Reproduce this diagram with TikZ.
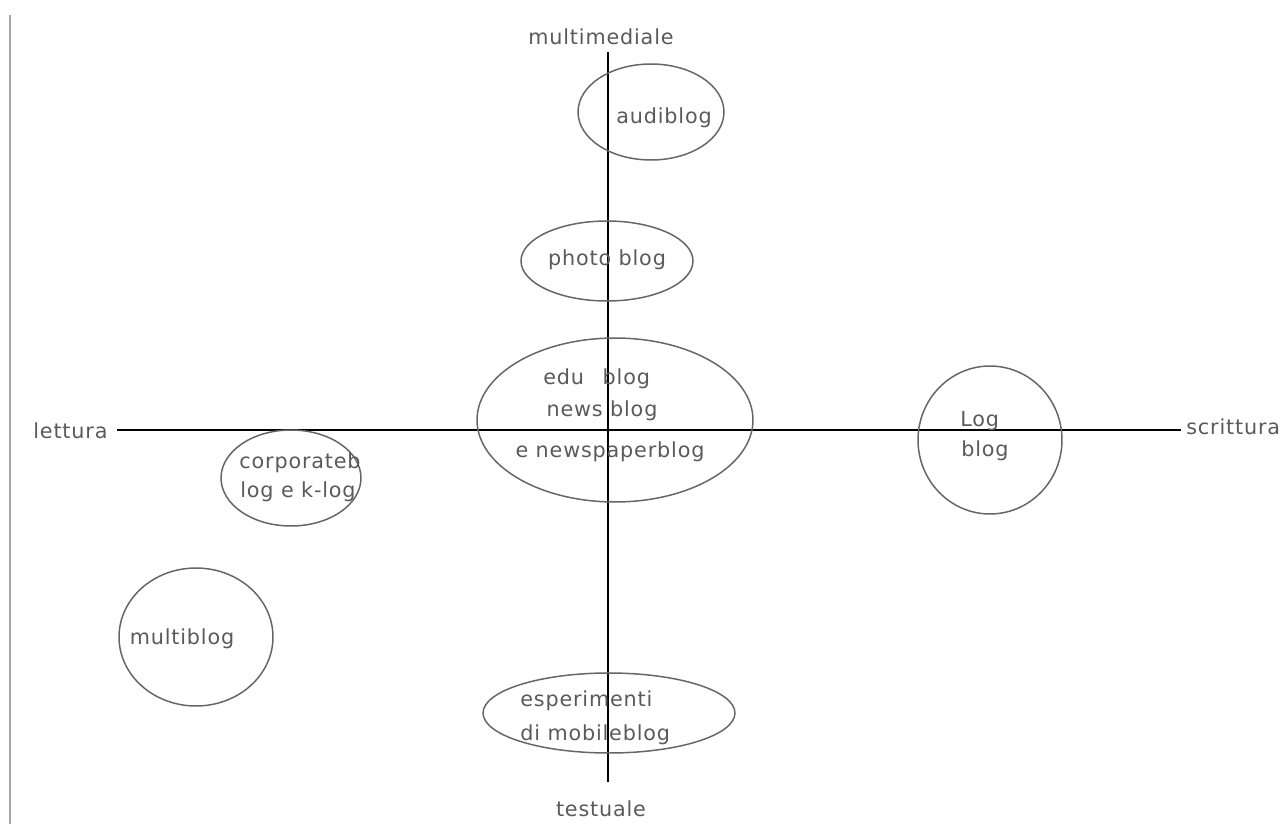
\documentclass[tikz,border=0pt]{standalone}
\usepackage{fontspec}
\setmainfont{DejaVu Sans}[LetterSpace=4]
\usetikzlibrary{shapes.geometric}
\definecolor{txt}{HTML}{5A5A5A}
\definecolor{ring}{HTML}{666666}
\tikzset{
  ring/.style={draw=ring, line width=0.85pt, ellipse, inner sep=0pt, outer sep=0pt},
  lbl/.style={text=txt, font=\fontsize{11.8}{14}\selectfont, inner sep=0pt, align=left},
  axis/.style={draw=black, line width=0.9pt}
}
\begin{document}
\begin{tikzpicture}[x=0.02cm, y=-0.02cm]
\useasboundingbox (0,0) rectangle (1284,824);
% left border
\coordinate (bt) at (10,15);
\coordinate (bb) at (10,824);
\draw[gray!70, line width=1.2pt] (bt) -- (bb);
% axes
\coordinate (vt) at (608,52);
\coordinate (vb) at (608,782);
\coordinate (hl) at (117,430);
\coordinate (hr) at (1181,430);
\draw[axis] (vt) -- (vb);
\draw[axis] (hl) -- (hr);
% axis labels
\node[lbl, anchor=base] (mm) at (601,45) {multimediale};
\node[lbl, anchor=base] (te) at (601,816) {testuale};
\node[lbl, anchor=base west] (le) at (33,438) {lettura};
\node[lbl, anchor=base west] (sc) at (1186,434) {scrittura};
% ellipses
\node[ring, minimum width=2.92cm, minimum height=1.92cm] (audi) at (651,112) {};
\node[ring, minimum width=3.44cm, minimum height=1.6cm] (photo) at (607,261) {};
\node[ring, minimum width=5.52cm, minimum height=3.28cm] (news) at (615,420) {};
\node[ring, minimum width=2.88cm, minimum height=2.96cm] (logb) at (990,440) {};
\node[ring, minimum width=2.8cm, minimum height=1.92cm] (corp) at (291,478) {};
\node[ring, minimum width=3.08cm, minimum height=2.76cm] (multi) at (196,637) {};
\node[ring, minimum width=5.04cm, minimum height=1.6cm] (mobi) at (609,713) {};
% texts
\node[lbl, anchor=base] (t1) at (664,124) {audiblog};
\node[lbl, anchor=base] (t2) at (607,265) {photo blog};
\node[lbl, anchor=base west] (t3) at (543,384) {edu\hspace{0.9em}blog};
\node[lbl, anchor=base] (t4) at (602,416) {news blog};
\node[lbl, anchor=base] (t5) at (610,457) {e newspaperblog};
\node[lbl, anchor=base west] (t6) at (960,426) {Log};
\node[lbl, anchor=base west] (t7) at (961,456) {blog};
\node[lbl, anchor=base] (t8) at (300,468) {corporateb};
\node[lbl, anchor=base] (t9) at (298,497) {log e k-log};
\node[lbl, anchor=base] (t10) at (182,644) {multiblog};
\node[lbl, anchor=base west] (t11) at (520,706) {esperimenti};
\node[lbl, anchor=base west] (t12) at (520,740) {di mobileblog};
\end{tikzpicture}
\end{document}
